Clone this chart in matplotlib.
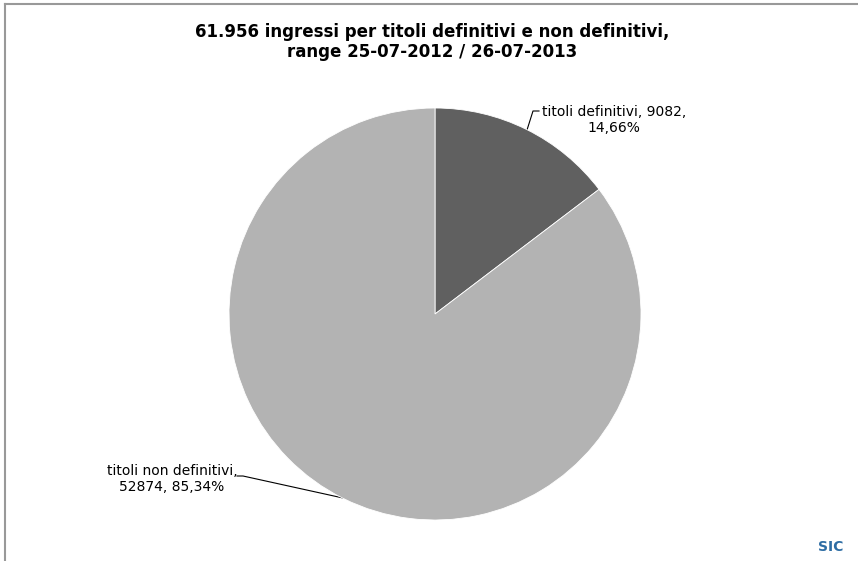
import matplotlib.pyplot as plt
from matplotlib.lines import Line2D

labels = ['titoli definitivi', 'titoli non definitivi']
counts = [9082, 52874]
pcts = ['14,66%', '85,34%']
colors = ['#606060', '#b3b3b3']

fig = plt.figure(figsize=(8.58, 5.61), dpi=100)
ax = fig.add_axes([0, 0, 1, 1])
ax.set_xlim(0, 858)
ax.set_ylim(561, 0)
ax.axis('off')

# pie in its own axes, centre (435, 314), radius ~206 px
cx, cy, r = 435, 314, 206
pax = fig.add_axes([(cx - r) / 858, 1 - (cy + r) / 561, 2 * r / 858, 2 * r / 561])
pax.pie(counts, colors=colors, startangle=90, counterclock=False,
        wedgeprops=dict(linewidth=0.6, edgecolor='white'))
pax.set_aspect('auto')
pax.set_xlim(-1, 1)
pax.set_ylim(-1, 1)

# border
fig.add_artist(Line2D([5 / 858, 5 / 858], [0, 1 - 4 / 561], color='#999999', lw=1.5))
fig.add_artist(Line2D([5 / 858, 1], [1 - 4 / 561, 1 - 4 / 561], color='#999999', lw=1.5))

ax.text(432, 42, '61.956 ingressi per titoli definitivi e non definitivi,\nrange 25-07-2012 / 26-07-2013',
        ha='center', va='center', fontsize=12, fontweight='bold', linespacing=1.15)

ax.text(614, 120, f'{labels[0]}, {counts[0]},\n{pcts[0]}', ha='center', va='center',
        fontsize=10, linespacing=1.2)
ax.plot([539, 533, 527], [111, 111, 130], color='black', lw=0.8)

ax.text(172, 479, f'{labels[1]},\n{counts[1]}, {pcts[1]}', ha='center', va='center',
        fontsize=10, linespacing=1.2)
ax.plot([237, 243, 343], [476, 476, 498], color='black', lw=0.8)

ax.text(831, 547, 'SIC', ha='center', va='center', fontsize=10, fontweight='bold',
        color='#2e6da4')

fig.savefig('out.png', dpi=100)
